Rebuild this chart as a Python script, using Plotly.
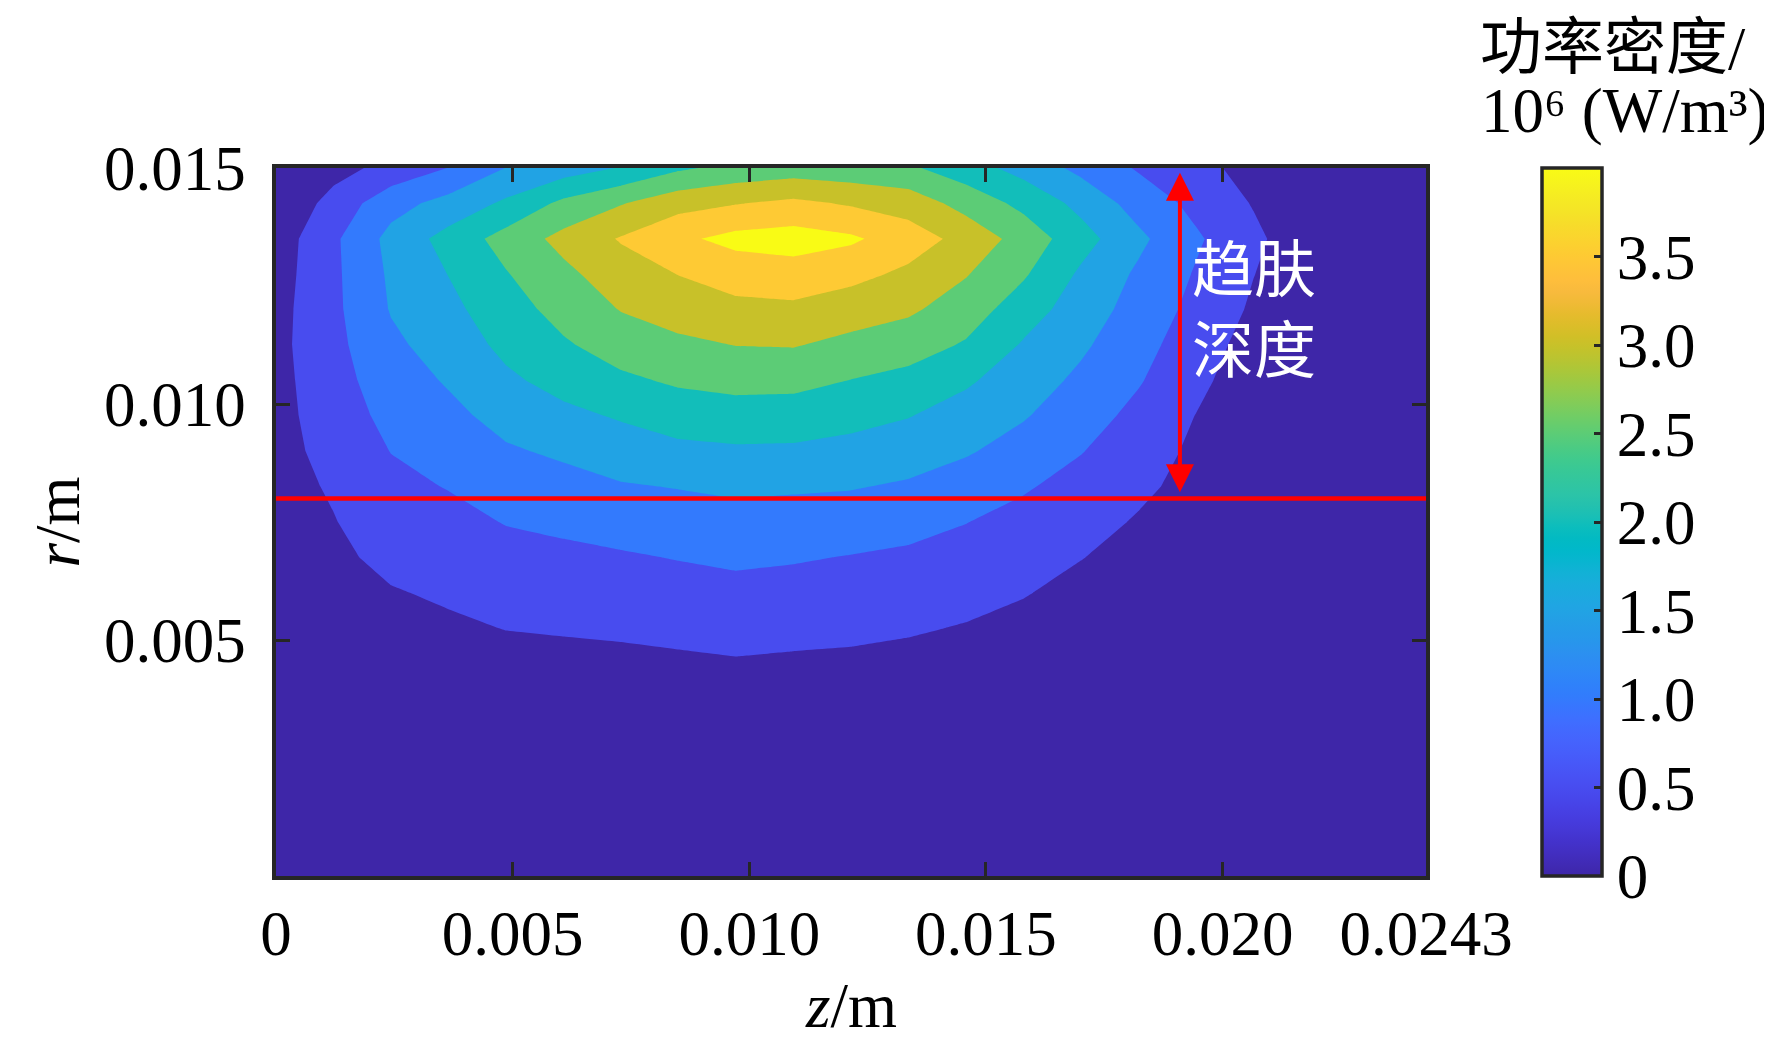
import plotly.graph_objects as go

# ---------------- data ----------------
# grid of the field (z along the axis, r radial), values in 10^6 W/m^3
z_m = [0.0, 0.001215, 0.00243, 0.003645, 0.00486, 0.006075, 0.00729, 0.008505,
       0.00972, 0.010935, 0.01215, 0.013365, 0.01458, 0.015795, 0.01701, 0.018225,
       0.01944, 0.020655, 0.02187, 0.023085, 0.0243]
# rows from the top (r = 0.015) down to r = 0
r_m_top_down = [0.015, 0.01425, 0.0135, 0.01275, 0.012, 0.01125, 0.0105, 0.00975,
                0.009, 0.00825, 0.0075, 0.00675, 0.006, 0.00525, 0.0045, 0.00375,
                0.003, 0.00225, 0.0015, 0.00075, 0.0]
power_top_down = [
    [0.05, 0.32, 0.66, 1.01, 1.51, 1.76, 2.03, 2.42, 2.65, 2.75, 2.68, 2.58, 2.22, 1.82, 1.37, 0.95, 0.65, 0.33, 0.18, 0.10, 0.06],
    [0.06, 0.68, 1.32, 1.67, 2.09, 2.62, 2.97, 3.33, 3.48, 3.61, 3.45, 3.29, 2.82, 2.37, 1.86, 1.30, 0.87, 0.47, 0.20, 0.12, 0.07],
    [0.23, 0.91, 1.65, 2.18, 2.69, 3.15, 3.54, 3.90, 4.15, 4.22, 4.08, 3.74, 3.34, 2.80, 2.20, 1.61, 1.07, 0.61, 0.15, 0.10, 0.07],
    [0.28, 0.90, 1.58, 2.01, 2.47, 2.88, 3.27, 3.51, 3.71, 3.78, 3.64, 3.40, 3.03, 2.56, 1.92, 1.42, 0.96, 0.51, 0.18, 0.10, 0.07],
    [0.33, 0.89, 1.53, 1.87, 2.29, 2.67, 3.02, 3.21, 3.37, 3.40, 3.24, 3.08, 2.75, 2.24, 1.75, 1.31, 0.86, 0.43, 0.16, 0.10, 0.06],
    [0.36, 0.86, 1.40, 1.72, 2.12, 2.44, 2.72, 2.90, 3.01, 3.03, 2.86, 2.72, 2.45, 1.95, 1.58, 1.17, 0.74, 0.31, 0.14, 0.09, 0.06],
    [0.34, 0.82, 1.25, 1.55, 1.91, 2.17, 2.41, 2.57, 2.65, 2.64, 2.49, 2.35, 2.07, 1.74, 1.40, 1.04, 0.63, 0.20, 0.12, 0.08, 0.05],
    [0.33, 0.76, 1.13, 1.37, 1.67, 1.88, 2.05, 2.23, 2.29, 2.27, 2.16, 2.02, 1.80, 1.54, 1.21, 0.87, 0.49, 0.17, 0.10, 0.07, 0.05],
    [0.32, 0.67, 1.01, 1.19, 1.44, 1.58, 1.75, 1.88, 1.93, 1.92, 1.84, 1.72, 1.55, 1.30, 1.02, 0.73, 0.41, 0.15, 0.09, 0.06, 0.04],
    [0.33, 0.55, 0.88, 1.02, 1.23, 1.33, 1.46, 1.52, 1.59, 1.56, 1.53, 1.44, 1.26, 1.05, 0.83, 0.59, 0.36, 0.13, 0.08, 0.06, 0.04],
    [0.30, 0.48, 0.74, 0.86, 1.02, 1.10, 1.19, 1.27, 1.32, 1.29, 1.25, 1.15, 1.01, 0.85, 0.66, 0.46, 0.31, 0.12, 0.07, 0.05, 0.04],
    [0.27, 0.41, 0.61, 0.71, 0.84, 0.89, 0.95, 1.02, 1.08, 1.04, 0.98, 0.92, 0.83, 0.66, 0.51, 0.38, 0.27, 0.11, 0.07, 0.05, 0.03],
    [0.24, 0.33, 0.47, 0.56, 0.67, 0.72, 0.76, 0.81, 0.87, 0.83, 0.79, 0.73, 0.65, 0.52, 0.40, 0.31, 0.23, 0.10, 0.06, 0.05, 0.03],
    [0.20, 0.27, 0.37, 0.43, 0.51, 0.54, 0.57, 0.62, 0.66, 0.63, 0.60, 0.55, 0.47, 0.40, 0.32, 0.26, 0.19, 0.09, 0.06, 0.04, 0.03],
    [0.17, 0.22, 0.29, 0.33, 0.36, 0.37, 0.39, 0.42, 0.46, 0.43, 0.41, 0.36, 0.34, 0.31, 0.26, 0.21, 0.16, 0.08, 0.05, 0.04, 0.03],
    [0.14, 0.18, 0.23, 0.27, 0.29, 0.30, 0.31, 0.34, 0.37, 0.35, 0.33, 0.29, 0.27, 0.25, 0.21, 0.17, 0.14, 0.07, 0.05, 0.04, 0.03],
    [0.12, 0.15, 0.19, 0.21, 0.23, 0.24, 0.25, 0.27, 0.30, 0.28, 0.27, 0.23, 0.22, 0.20, 0.17, 0.14, 0.12, 0.06, 0.04, 0.03, 0.03],
    [0.10, 0.12, 0.15, 0.17, 0.18, 0.19, 0.20, 0.22, 0.24, 0.22, 0.21, 0.19, 0.18, 0.16, 0.14, 0.12, 0.10, 0.05, 0.04, 0.03, 0.02],
    [0.08, 0.10, 0.12, 0.14, 0.15, 0.15, 0.16, 0.18, 0.19, 0.18, 0.17, 0.15, 0.14, 0.13, 0.12, 0.10, 0.08, 0.05, 0.03, 0.02, 0.02],
    [0.07, 0.08, 0.10, 0.11, 0.12, 0.12, 0.13, 0.14, 0.15, 0.14, 0.14, 0.12, 0.11, 0.11, 0.10, 0.08, 0.07, 0.04, 0.03, 0.02, 0.02],
    [0.06, 0.07, 0.08, 0.09, 0.10, 0.10, 0.10, 0.11, 0.12, 0.11, 0.11, 0.10, 0.09, 0.09, 0.08, 0.07, 0.06, 0.04, 0.03, 0.02, 0.02],
]

level_start = 0.5
level_end = 4.0
level_step = 0.5
cbar_min = 0.0
cbar_max = 4.0
cbar_tickvals = [0, 0.5, 1.0, 1.5, 2.0, 2.5, 3.0, 3.5]
cbar_ticktext = ["0", "0.5", "1.0", "1.5", "2.0", "2.5", "3.0", "3.5"]

x_tickvals = [0, 0.005, 0.010, 0.015, 0.020, 0.0243]
x_ticktext = ["0", "0.005", "0.010", "0.015", "0.020", "0.0243"]
y_tickvals = [0.005, 0.010, 0.015]
y_ticktext = ["0.005", "0.010", "0.015"]

z_range = [0.0, 0.0243]
r_range = [0.0, 0.015]
skin_depth_r = 0.008      # red horizontal line
skin_arrow_z = 0.0191     # z position of the double arrow
skin_arrow_r = [0.0081, 0.0149]

# ---------------- styling ----------------
PARULA = [
    (0.2422, 0.1504, 0.6603), (0.2504, 0.1650, 0.7076), (0.2578, 0.1818, 0.7511), (0.2647, 0.1978, 0.7952),
    (0.2706, 0.2147, 0.8364), (0.2751, 0.2342, 0.8710), (0.2783, 0.2559, 0.8991), (0.2803, 0.2782, 0.9221),
    (0.2813, 0.3006, 0.9414), (0.2810, 0.3228, 0.9579), (0.2795, 0.3447, 0.9717), (0.2760, 0.3667, 0.9829),
    (0.2699, 0.3892, 0.9906), (0.2602, 0.4123, 0.9952), (0.2440, 0.4358, 0.9988), (0.2206, 0.4603, 0.9973),
    (0.1963, 0.4847, 0.9892), (0.1834, 0.5074, 0.9798), (0.1786, 0.5289, 0.9682), (0.1764, 0.5499, 0.9520),
    (0.1687, 0.5703, 0.9359), (0.1540, 0.5902, 0.9218), (0.1460, 0.6091, 0.9079), (0.1380, 0.6276, 0.8973),
    (0.1248, 0.6459, 0.8883), (0.1113, 0.6635, 0.8763), (0.0952, 0.6798, 0.8598), (0.0689, 0.6948, 0.8394),
    (0.0297, 0.7082, 0.8163), (0.0036, 0.7203, 0.7917), (0.0067, 0.7312, 0.7660), (0.0433, 0.7411, 0.7394),
    (0.0964, 0.7500, 0.7120), (0.1408, 0.7584, 0.6842), (0.1717, 0.7670, 0.6554), (0.1938, 0.7758, 0.6251),
    (0.2161, 0.7843, 0.5923), (0.2470, 0.7918, 0.5567), (0.2906, 0.7973, 0.5188), (0.3406, 0.8008, 0.4789),
    (0.3909, 0.8029, 0.4354), (0.4456, 0.8024, 0.3909), (0.5044, 0.7993, 0.3480), (0.5616, 0.7942, 0.3045),
    (0.6174, 0.7876, 0.2612), (0.6720, 0.7793, 0.2227), (0.7242, 0.7698, 0.1910), (0.7738, 0.7598, 0.1646),
    (0.8203, 0.7498, 0.1535), (0.8634, 0.7406, 0.1596), (0.9035, 0.7330, 0.1774), (0.9393, 0.7288, 0.2100),
    (0.9728, 0.7298, 0.2394), (0.9956, 0.7434, 0.2371), (0.9970, 0.7659, 0.2199), (0.9952, 0.7893, 0.2028),
    (0.9892, 0.8136, 0.1885), (0.9786, 0.8386, 0.1766), (0.9676, 0.8639, 0.1643), (0.9610, 0.8890, 0.1537),
    (0.9597, 0.9135, 0.1423), (0.9628, 0.9373, 0.1265), (0.9691, 0.9606, 0.1064), (0.9769, 0.9839, 0.0805),
]
n = len(PARULA) - 1
parula = [[i / n, "rgb(%d,%d,%d)" % (round(r * 255), round(g * 255), round(b * 255))]
          for i, (r, g, b) in enumerate(PARULA)]

SERIF = "Liberation Serif, Times New Roman, serif"
CJK = "Liberation Serif, Noto Sans CJK SC, serif"
FRAME = "#262626"
FS = 63

r_m = r_m_top_down[::-1]
power = power_top_down[::-1]

fig = go.Figure()

# invisible heatmap only to carry the continuous colour bar
fig.add_trace(go.Heatmap(
    x=z_m, y=r_m, z=power, zmin=cbar_min, zmax=cbar_max, colorscale=parula,
    opacity=0, hoverinfo="skip",
    colorbar=dict(
        x=1.101, xanchor="left", y=0.5, yanchor="middle",
        len=1.0, lenmode="fraction", thickness=60, thicknessmode="pixels",
        xpad=0, ypad=0, outlinewidth=3.5, outlinecolor=FRAME,
        ticks="inside", ticklen=9, tickwidth=3, tickcolor=FRAME,
        tickvals=cbar_tickvals, ticktext=cbar_ticktext,
        tickfont=dict(family=SERIF, size=FS, color="black"),
    ),
))

fig.add_trace(go.Contour(
    x=z_m, y=r_m, z=power, autocontour=False,
    contours=dict(start=level_start, end=level_end, size=level_step,
                  coloring="fill", showlines=False),
    line=dict(width=0, smoothing=0), colorscale=parula, showscale=False, hoverinfo="skip",
))

fig.add_trace(go.Scatter(
    x=z_range, y=[skin_depth_r, skin_depth_r], mode="lines",
    line=dict(color="#ff0000", width=4.5), showlegend=False, hoverinfo="skip",
))

axis_common = dict(
    ticks="inside", ticklen=14, tickwidth=3, tickcolor=FRAME,
    showline=True, linewidth=3.5, linecolor=FRAME, mirror="ticks",
    showgrid=False, zeroline=False,
    tickfont=dict(family=SERIF, size=FS, color="black"),
)

fig.update_layout(
    width=1772, height=1046,
    margin=dict(l=268, r=354, t=160, b=178),
    paper_bgcolor="white", plot_bgcolor="white",
    showlegend=False,
    xaxis=dict(range=z_range, tickvals=x_tickvals, ticktext=x_ticktext,
               ticklabelstandoff=0, **axis_common),
    yaxis=dict(range=r_range, tickvals=y_tickvals, ticktext=y_ticktext,
               ticklabelstandoff=14, **axis_common),
)

annotations = [
    # double-headed skin-depth arrow
    dict(x=skin_arrow_z, y=skin_arrow_r[1], ax=skin_arrow_z, ay=skin_arrow_r[0],
         xref="x", yref="y", axref="x", ayref="y", text="", showarrow=True,
         arrowside="end+start", arrowhead=2, startarrowhead=2,
         arrowsize=1.4, startarrowsize=1.4, arrowwidth=4, arrowcolor="#ff0000",
         standoff=0, startstandoff=0),
    dict(x=0.795, y=0.797, xref="paper", yref="paper", xanchor="left", yanchor="middle",
         text="趋肤<br>深度", showarrow=False, align="left",
         font=dict(family=CJK, size=62, color="white")),
    dict(x=0.5, y=-0.183, xref="paper", yref="paper", xanchor="center", yanchor="middle",
         text="<i>z</i>/m", showarrow=False, font=dict(family=SERIF, size=FS, color="black")),
    dict(x=-0.19, y=0.5, xref="paper", yref="paper", xanchor="center", yanchor="middle",
         text="<i>r</i>/m", textangle=-90, showarrow=False,
         font=dict(family=SERIF, size=FS, color="black")),
    dict(x=1.163, y=1.221, xref="paper", yref="paper", xanchor="center", yanchor="top",
         text="功率密度/", showarrow=False, font=dict(family=CJK, size=62, color="black")),
    dict(x=1.173, y=1.08, xref="paper", yref="paper", xanchor="center", yanchor="middle",
         text="10⁶ (W/m³)", showarrow=False,
         font=dict(family=SERIF, size=FS, color="black")),
]
fig.update_layout(annotations=annotations)

fig.write_html("out.html")
